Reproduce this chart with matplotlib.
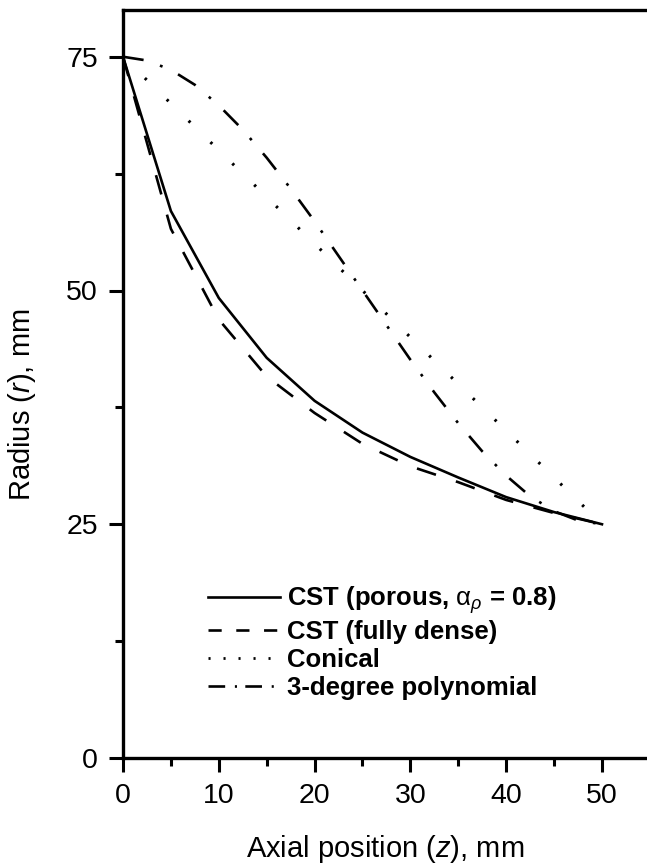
import matplotlib
matplotlib.use("Agg")
import matplotlib.pyplot as plt
from matplotlib.lines import Line2D
from matplotlib.ticker import MultipleLocator

plt.rcParams['font.family'] = ['Liberation Sans', 'DejaVu Sans']
plt.rcParams['mathtext.fontset'] = 'custom'
plt.rcParams['mathtext.rm'] = 'Liberation Sans'
plt.rcParams['mathtext.it'] = 'Liberation Sans:italic'
plt.rcParams['mathtext.bf'] = 'Liberation Sans:bold'
plt.rcParams['lines.scale_dashes'] = False

# values (z in mm, r in mm)
z_cst = [0, 5, 10, 15, 20, 25, 30, 35, 40, 45, 50]
r_porous = [75, 58.5, 49.2, 42.8, 38.2, 34.8, 32.2, 30.0, 27.9, 26.3, 25]
r_dense = [75, 56.6, 46.9, 40.8, 36.9, 33.6, 31.2, 29.5, 27.6, 26.2, 25]

z_cone = [0, 10, 20, 30, 40, 50]
r_cone = [75, 65, 55, 45, 35, 25]

z_poly = [0, 2.5, 5, 7.5, 10, 12.5, 15, 17.5, 20, 22.5, 25,
          27.5, 30, 32.5, 35, 37.5, 40, 42.5, 45, 47.5, 50]
r_poly = [75, 74.6, 73.6, 72.0, 69.8, 67.2, 64.2, 60.9, 57.4, 53.7, 50.0,
          46.3, 42.6, 39.1, 35.8, 32.8, 30.2, 28.0, 26.4, 25.4, 25]

labels = [r'CST (porous, $\mathrm{\alpha}_\rho$ = 0.8)', 'CST (fully dense)',
          'Conical', '3-degree polynomial']

W, H = 647, 865
fig = plt.figure(figsize=(W / 100, H / 100), dpi=100)
ax = fig.add_axes([123 / W, 1 - 758 / H, (W - 123) / W, (758 - 10) / H])

lw = 1.9
ax.plot(z_cst, r_porous, color='k', lw=lw, solid_joinstyle='round')
ax.plot(z_cst, r_dense, color='k', lw=lw, dashes=(14.4, 15.1))
ax.plot(z_cone, r_cone, color='k', lw=2.2, dashes=(1.8, 20.2))
ax.plot(z_poly, r_poly, color='k', lw=lw, dashes=(15, 12.5, 2, 12.5))

ax.set_xlim(0, 54.7)
ax.set_ylim(0, 80)
ax.xaxis.set_major_locator(MultipleLocator(10))
ax.xaxis.set_minor_locator(MultipleLocator(5))
ax.yaxis.set_major_locator(MultipleLocator(25))
ax.yaxis.set_minor_locator(MultipleLocator(12.5))

for s in ['left', 'bottom', 'top']:
    ax.spines[s].set_linewidth(2.4)
ax.spines['right'].set_visible(False)

ax.tick_params(which='major', direction='out', length=10, width=2.2,
               labelsize=20.5, pad=8)
ax.tick_params(which='minor', direction='out', length=5.5, width=2.2)
ax.tick_params(top=False, right=False, which='both')

ax.set_xlabel(r'Axial position ($z$), mm', fontsize=21)
ax.set_ylabel(r'Radius ($r$), mm', fontsize=21)
ax.xaxis.set_label_coords(0.5, -0.1)
ax.yaxis.set_label_coords(-0.162, 0.472)

handles = [
    Line2D([], [], color='k', lw=lw),
    Line2D([], [], color='k', lw=lw, dashes=(9.5, 10.5)),
    Line2D([], [], color='k', lw=2.0, dashes=(1.5, 9.3)),
    Line2D([], [], color='k', lw=lw, dashes=(12, 7, 1.5, 6)),
]
ax.legend(handles, labels, loc='upper left', frameon=False,
          bbox_to_anchor=(208 / W, 1 - 584 / H), bbox_transform=fig.transFigure,
          borderaxespad=0, borderpad=0, handlelength=2.8, handletextpad=0.28,
          labelspacing=0.16, prop={'weight': 'bold', 'size': 18.5})

fig.savefig('out.png', dpi=100)
